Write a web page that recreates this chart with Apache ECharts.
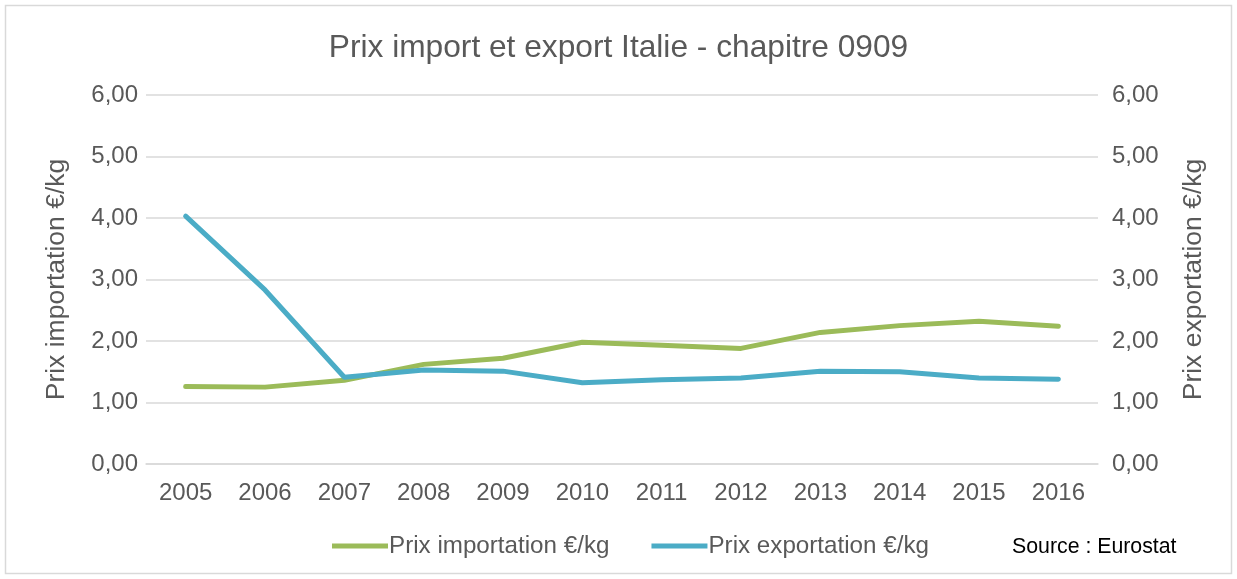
<!DOCTYPE html>
<html>
<head>
<meta charset="utf-8">
<script src="https://cdn.jsdelivr.net/npm/echarts@6/dist/echarts.min.js"></script>
<style>
    html, body { margin: 0; padding: 0; background: #fff; }
    #chart { width: 1237px; height: 579px; }
</style>
</head>
<body>
<div id="chart"></div>
<script>
    // années
    const years = ['2005', '2006', '2007', '2008', '2009', '2010', '2011', '2012', '2013', '2014', '2015', '2016'];
    // prix importation €/kg
    const importPrices = [1.26, 1.25, 1.36, 1.62, 1.72, 1.98, 1.93, 1.88, 2.14, 2.25, 2.32, 2.24];
    // prix exportation €/kg
    const exportPrices = [4.03, 2.83, 1.41, 1.53, 1.51, 1.32, 1.37, 1.40, 1.51, 1.50, 1.40, 1.38];

    const fmt = v => v.toFixed(2).replace('.', ',');
    const font = 'Liberation Sans, Arial, sans-serif';

    const chart = echarts.init(document.getElementById('chart'));
    chart.setOption({
        animation: false,
        textStyle: { fontFamily: font },
        title: {
            text: 'Prix import et export Italie - chapitre 0909',
            left: 'center',
            top: 27,
            textStyle: { fontSize: 31.7, fontWeight: 'normal', color: '#595959', fontFamily: font }
        },
        graphic: [
            {
                type: 'rect',
                shape: { x: 5.5, y: 5.5, width: 1226, height: 568 },
                style: { fill: 'none', stroke: '#d9d9d9', lineWidth: 1.5 },
                silent: true
            },
            {
                type: 'text',
                left: 1012,
                top: 537,
                style: { text: 'Source : Eurostat', font: '21.3px ' + font, fill: '#000' }
            }
        ],
        legend: {
            left: 327,
            top: 529,
            itemWidth: 56,
            itemHeight: 5,
            itemGap: 42,
            icon: 'rect',
            textStyle: { fontSize: 24.2, color: '#595959', padding: [0, 0, 0, -4] },
            data: ['Prix importation €/kg', 'Prix exportation €/kg']
        },
        grid: { left: 146, right: 139, top: 95, bottom: 115 },
        xAxis: {
            type: 'category',
            data: years,
            axisLine: { lineStyle: { color: '#d9d9d9', width: 1.5 } },
            axisTick: { show: false },
            axisLabel: { fontSize: 24, color: '#595959', margin: 17 }
        },
        yAxis: [
            {
                type: 'value',
                min: 0, max: 6, interval: 1,
                name: 'Prix importation €/kg',
                nameLocation: 'middle',
                nameGap: 76,
                nameTextStyle: { fontSize: 26.5, color: '#595959' },
                axisLabel: { fontSize: 24, color: '#595959', margin: 8, formatter: fmt },
                splitLine: { lineStyle: { color: '#d9d9d9', width: 1.5 } }
            },
            {
                type: 'value',
                min: 0, max: 6, interval: 1,
                name: 'Prix exportation €/kg',
                nameLocation: 'middle',
                nameGap: 82,
                nameRotate: 90,
                nameTextStyle: { fontSize: 26.5, color: '#595959' },
                axisLabel: { fontSize: 24, color: '#595959', margin: 14, formatter: fmt },
                splitLine: { show: false }
            }
        ],
        series: [
            {
                name: 'Prix importation €/kg',
                type: 'line',
                data: importPrices,
                yAxisIndex: 0,
                symbol: 'none',
                color: '#9bbb59',
                lineStyle: { width: 5, cap: 'round', join: 'round' }
            },
            {
                name: 'Prix exportation €/kg',
                type: 'line',
                data: exportPrices,
                yAxisIndex: 1,
                symbol: 'none',
                color: '#4bacc6',
                lineStyle: { width: 5, cap: 'round', join: 'round' }
            }
        ]
    });
</script>
</body>
</html>
